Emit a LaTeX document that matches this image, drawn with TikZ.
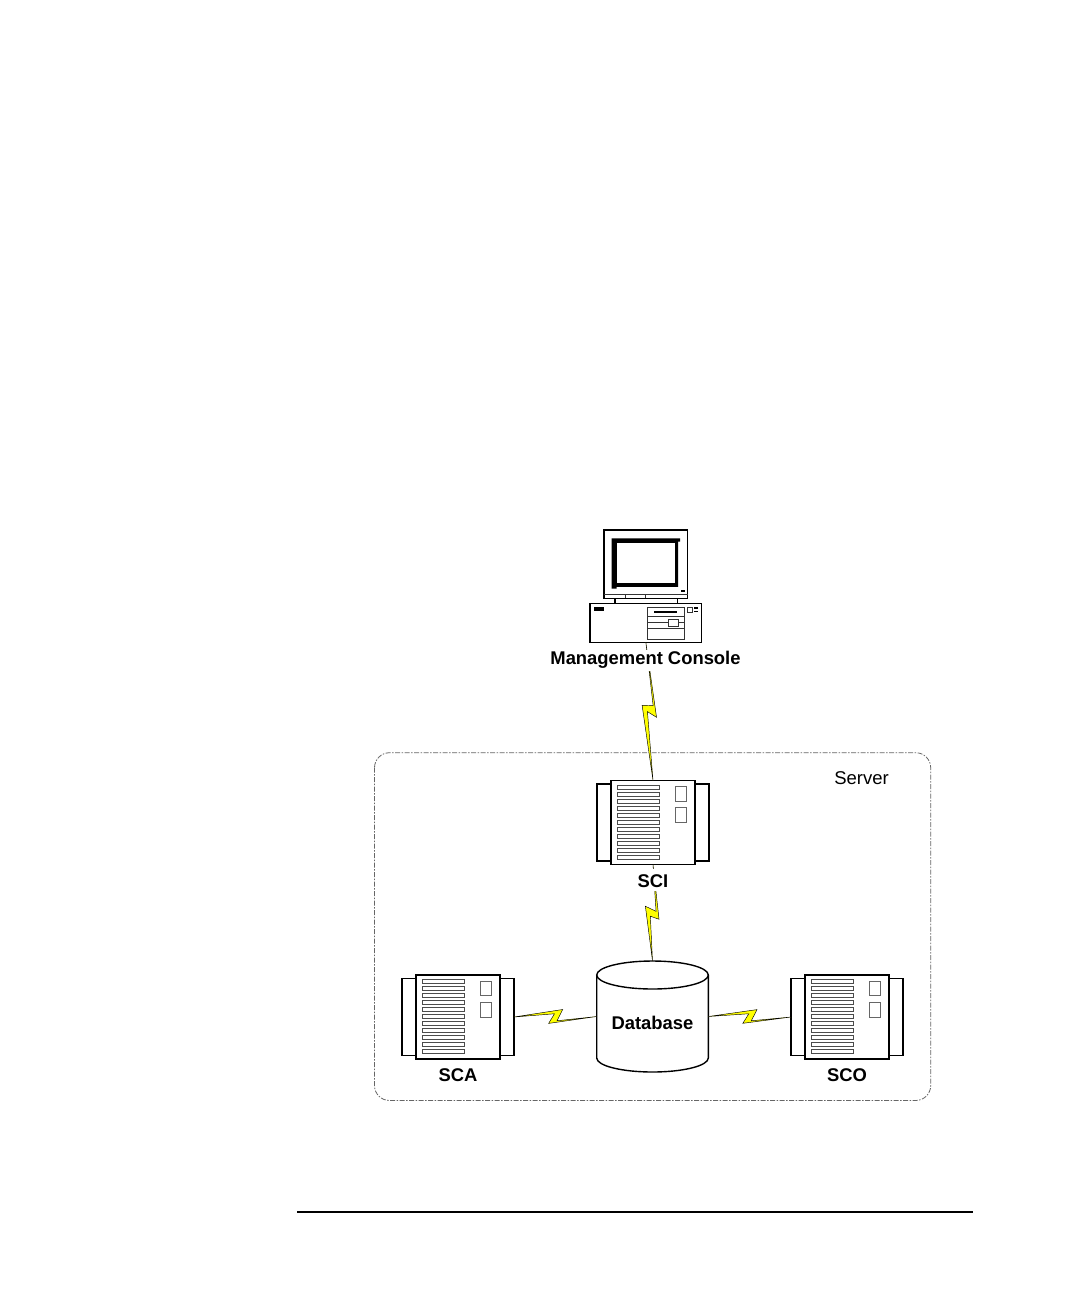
\documentclass[tikz,border=0pt]{standalone}
\usepackage{fontspec}
\setmainfont{Liberation Sans}
\usetikzlibrary{calc}
\definecolor{zapyellow}{HTML}{FFFF00}
\tikzset{
  srv/.style={draw=black,fill=white,inner sep=0pt,outer sep=0pt,line width=1.4pt},
  srvslot/.style={draw=black!70,fill=white,line width=0.8pt},
  srvbay/.style={draw=black!60,fill=white,line width=0.9pt},
  pcline/.style={draw=black,line width=1.1pt},
  pcthin/.style={draw=black!80,line width=0.8pt},
  pcsolid/.style={fill=black},
  lab/.style={font=\bfseries\fontsize{18.4}{20}\selectfont,inner sep=0pt,outer sep=0pt,anchor=base,text height=#1},
  lab/.default=14pt,
  cover/.style={fill=white,text depth=6.5pt},
  zapline/.style={draw=black,fill=zapyellow,line width=0.45pt,line join=miter},
  zapshape/.style n args={8}{to path={
    -- ($(\tikztostart)!#1!(\tikztotarget)!#2pt!90:(\tikztotarget)$)
    -- ($(\tikztostart)!#3!(\tikztotarget)!#4pt!90:(\tikztotarget)$)
    -- (\tikztotarget)
    -- ($(\tikztostart)!#5!(\tikztotarget)!#6pt!90:(\tikztotarget)$)
    -- ($(\tikztostart)!#7!(\tikztotarget)!#8pt!90:(\tikztotarget)$)
    -- cycle}},
  serverzone/.style={draw=black!60,line width=0.8pt,dash pattern=on 5pt off 1.5pt on 1.5pt off 1.5pt,rounded corners=15pt},
}
\newcommand\serverunit[3]{%
  \begin{scope}[shift={(#2,#3)}]
    \node[srv,minimum width=14pt,minimum height=77pt] (#1L) at (-7,42) {};
    \node[srv,minimum width=14pt,minimum height=77pt] (#1R) at (91,42) {};
    \node[srv,minimum width=84pt,minimum height=84pt] (#1) at (42,42) {};
    \foreach \i in {0,...,10}{
      \draw[srvslot] (6.7,{4.7+7*\i}) rectangle (48.7,{8.7+7*\i});
    }
    \draw[srvbay] (64.3,6.3) rectangle (75,20.7);
    \draw[srvbay] (64.3,27.3) rectangle (75,42);
  \end{scope}%
}
\begin{document}
\begin{tikzpicture}[x=1pt,y=-1pt]
\useasboundingbox (0,0) rectangle (1080,1296);
\fill[white] (0,0) rectangle (1080,1296);

% server zone
\draw[serverzone] (374.5,752.7) rectangle (930.7,1100.5);
\node[font=\fontsize{18.5}{20}\selectfont,inner sep=0pt,anchor=base] (serverlabel) at (861.5,784) {Server};

% management console
\draw[pcline,fill=white] (604,530) rectangle (687.7,598.3);
\fill[pcsolid] (611.7,538.3) -- (680,538.3) -- (680,541.5) -- (678,541.5) -- (678,586.8) -- (616.7,586.8) -- (616.7,588.5) -- (611.7,588.5) -- cycle;
\fill[white] (616.7,543.3) rectangle (675,583.3);
\draw[pcthin] (604,594) -- (687.7,594);
\draw[pcthin] (625,594) -- (625,598.3);
\draw[pcthin] (645.7,594) -- (645.7,598.3);
\fill[pcsolid] (680.5,590) rectangle (684.5,592);
\draw[pcline,fill=white] (615,598.3) rectangle (677.3,603.3);
\node[draw=black,line width=1.1pt,fill=white,inner sep=0pt,outer sep=0pt,minimum width=111.7pt,minimum height=39pt] (pc) at (645.85,622.8) {};
\fill[pcsolid] (594,607.3) rectangle (604.3,610.7);
\draw[pcthin] (647.3,607.3) rectangle (684.3,639);
\draw[pcthin] (647.3,616.7) -- (684.3,616.7);
\draw[pcthin] (647.3,622.7) -- (668.3,622.7);
\draw[pcthin] (678.7,622.7) -- (684.3,622.7);
\draw[pcthin] (647.3,628) -- (684.3,628);
\draw[pcthin] (668.3,619.3) rectangle (678.7,626);
\fill[pcsolid] (654,611.3) rectangle (677.3,613.3);
\draw[pcthin] (687.7,607.3) rectangle (692.3,612);
\fill[pcsolid] (694.3,607.3) rectangle (698,609);
\fill[pcsolid] (694.3,610.5) rectangle (698,612.2);

% servers
\serverunit{sci}{611}{780.5}
\serverunit{sca}{416}{975}
\serverunit{sco}{805}{975}

% database
\node[inner sep=0pt,outer sep=0pt,minimum width=111.6pt,minimum height=111pt] (db) at (652.5,1016.5) {};
\draw[line width=1.4pt,fill=white] (596.7,975) -- (596.7,1058) arc[start angle=180,end angle=360,x radius=55.8pt,y radius=14pt] -- (708.3,975);
\draw[line width=1.4pt,fill=white] (652.5,975) ellipse [x radius=55.8pt,y radius=14pt];
\node[lab] (dblabel) at (652.5,1029) {Database};

% connectors
\draw[zapline] (pc.south) to[zapshape={.545}{6.8}{.501}{-2}{.453}{-7}{.46}{4}] (sci.north);
\draw[zapline] (sci.south) to[zapshape={.567}{6.3}{.536}{-2.4}{.433}{-7.4}{.485}{3.3}] (db.north);
\draw[zapline] (scaR.east) to[zapshape={.589}{7.2}{.52}{-4}{.418}{-6.6}{.49}{3}] (db.west);
\draw[zapline] (db.east) to[zapshape={.589}{7.2}{.52}{-4}{.418}{-6.6}{.49}{3}] (scoL.west);

% labels
\node[lab=15pt,cover] (mclabel) at (645.5,664.5) {Management Console};
\node[lab=18pt,cover,text depth=4pt] (scilabel) at (653,887) {SCI};
\node[lab] (scalabel) at (458,1081) {SCA};
\node[lab] (scolabel) at (847,1081) {SCO};

% footer rule
\draw[line width=2pt] (297,1212) -- (973,1212);
\end{tikzpicture}
\end{document}
